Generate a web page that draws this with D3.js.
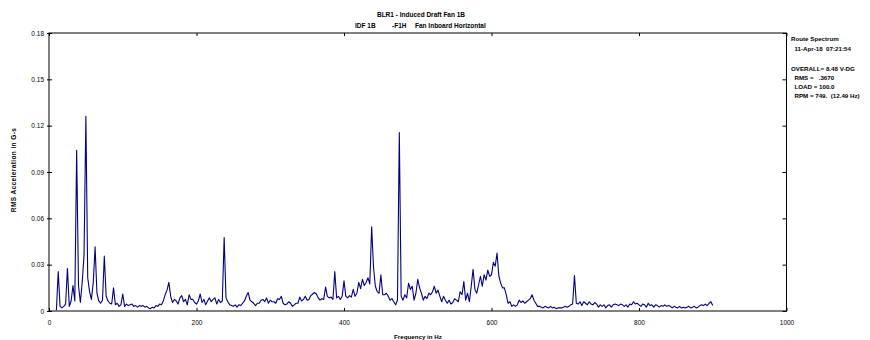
<!DOCTYPE html>
<html>
<head>
<meta charset="utf-8">
<script src="https://cdn.jsdelivr.net/npm/d3@7"></script>
<style>
  body { margin: 0; background: #fff; }
  text { font-family: "Liberation Sans", Arial, sans-serif; fill: #000; white-space: pre; }
  .lbl { font-weight: bold; }
</style>
</head>
<body>
<div id="chart"></div>
<script>
// spectrum bins, 2.5 Hz resolution starting at 10 Hz, amplitude in milli-G (RMS)
const firstBinHz = 10;
const binHz = 2.5;
const ampMilliG = [
  0.5, 25.5, 3, 2, 3, 4.5, 27.5, 3,            // 10
  6.5, 16.5, 6.5, 104, 16.5, 5.5, 18.5, 36,    // 30
  126, 21.5, 12.5, 7.5, 18.5, 41.5, 11.5, 6.5, // 50
  5, 7, 35.5, 9.5, 6.5, 5, 4.5, 15,            // 70
  4, 5, 3, 4, 11, 3, 4.5, 3.5,                 // 90
  4, 4.5, 3, 3.5, 2.5, 3.5, 3, 3.5,            // 110
  2.5, 3, 2, 1.5, 2.5, 2, 3.5, 3,              // 130
  4.5, 4, 6.5, 10.5, 13.5, 18.5, 9.5, 5.5,     // 150
  7.5, 6.5, 4.5, 8.5, 10, 6, 7.5, 4,           // 170
  10.5, 7.5, 7.5, 5.5, 4.5, 6.5, 11, 5.5,      // 190
  7.5, 4, 6.5, 8.5, 6, 7.5, 8.5, 4.5,          // 210
  7.5, 5.5, 6.5, 47.5, 8.5, 6, 4, 3.5,         // 230
  3, 4, 2.5, 4, 3.5, 5, 6.5, 9.5,              // 250
  12, 7, 6, 5, 3.5, 5, 5, 7,                   // 270
  7.5, 6, 8.5, 5, 7, 6, 6, 5,                  // 290
  8, 7.5, 9.5, 5, 4, 4.5, 6, 5,                // 310
  3, 4, 5, 5, 9, 6.5, 7.5, 9.5,                // 330
  7, 7.5, 10, 11, 12, 11, 8.5, 7,              // 350
  8, 7.5, 15.5, 9.5, 8.5, 9, 7.5, 25.5,        // 370
  8.5, 9.5, 7.5, 9.5, 19.5, 9.5, 8.5, 10,      // 390
  9, 14, 9.5, 11.5, 18.5, 14.5, 20.5, 16.5,    // 410
  18.5, 21.5, 17.5, 54.5, 28.5, 16, 12.5, 11.5,// 430
  23.5, 10.5, 10.5, 11.5, 9.5, 7, 8, 6,        // 450
  4, 7, 115.5, 9.5, 7, 10.5, 8.5, 18,          // 470
  14, 16, 7, 11.5, 20.5, 15, 11.5, 7,          // 490
  9.5, 8, 11.5, 10.5, 12.5, 16, 11.5, 13.5,    // 510
  9.5, 6, 9.5, 7, 5, 7, 4.5, 5.5,              // 530
  8, 7, 6, 12.5, 10.5, 19, 7, 11.5,            // 550
  6, 16, 27, 14, 11.5, 17, 22.5, 16,           // 570
  23.5, 20, 26.5, 22.5, 23.5, 31.5, 29, 37.5,  // 590
  22.5, 18, 15, 15, 10.5, 5, 6, 3,             // 610
  4, 3, 4, 7, 5.5, 6.5, 5, 6,                  // 630
  7, 8, 10.5, 7, 5, 3, 3, 2.5,                 // 650
  2, 3, 2.5, 2, 3, 2, 2.5, 1.5,                // 670
  2, 2, 2, 2.5, 3, 2.5, 3, 4,                  // 690
  4.5, 23, 5, 4.5, 6, 3.5, 6, 5,               // 710
  4, 6, 4.5, 4, 5.5, 4.5, 2.5, 4,              // 730
  3, 4, 2, 3.5, 4, 2.5, 4, 4.5,                // 750
  4, 3.5, 4.5, 4, 3, 4, 2.5, 4.5,              // 770
  4, 6, 4.5, 5, 4, 3, 4.5, 4,                  // 790
  2.5, 5, 3.5, 4, 2.5, 4, 3.5, 2.5,            // 810
  3.5, 3, 4, 3, 3.5, 3, 2, 3,                  // 830
  2.5, 2, 3, 2, 2.5, 2, 2.5, 3,                // 850
  2, 2.5, 3, 2, 2.5, 3.5, 4, 3.5,              // 870
  4.5, 3.5, 5, 6, 3.5                          // 890
];

const xTicks = [0, 200, 400, 600, 800, 1000];
const yTicks = [0, 0.03, 0.06, 0.09, 0.12, 0.15, 0.18];
const titleLines = ["BLR1 - Induced Draft Fan 1B"];
const subtitleParts = ["IDF 1B", "-F1H", "Fan Inboard Horizontal"];
const infoHead = ["Route Spectrum", "  11-Apr-18  07:21:54"];
const infoLines = ["OVERALL= 8.48 V-DG", "  RMS =   .3670", "  LOAD = 100.0", "  RPM = 749.  (12.49 Hz)"];

const width = 870, height = 340;
const plotLeft = 49, plotRight = 786.5, plotTop = 33, plotBottom = 311;

const svg = d3.select("#chart").append("svg")
    .attr("width", width)
    .attr("height", height);

svg.append("rect").attr("width", width).attr("height", height).attr("fill", "#fff");

const x = d3.scaleLinear().domain([0, 1000]).range([plotLeft, plotRight]);
const y = d3.scaleLinear().domain([0, 0.18]).range([plotBottom, plotTop]);

// frame
svg.append("rect")
    .attr("x", plotLeft).attr("y", plotTop)
    .attr("width", plotRight - plotLeft).attr("height", plotBottom - plotTop)
    .attr("fill", "none").attr("stroke", "#000").attr("stroke-width", 1);

const yFmt = d => d === 0 ? "0" : d3.format(".2f")(d);

// left axis, ticks cross the line
svg.append("g")
    .attr("transform", "translate(" + plotLeft + ",0)")
    .call(d3.axisLeft(y).tickValues(yTicks).tickFormat(yFmt).tickSizeInner(2).tickSizeOuter(0).tickPadding(3));
svg.append("g")
    .attr("transform", "translate(" + plotLeft + ",0)")
    .call(d3.axisRight(y).tickValues(yTicks).tickFormat("").tickSizeInner(3).tickSizeOuter(0));

// right side ticks
svg.append("g")
    .attr("transform", "translate(" + plotRight + ",0)")
    .call(d3.axisLeft(y).tickValues(yTicks).tickFormat("").tickSizeInner(4).tickSizeOuter(0));

// bottom axis, inward ticks
svg.append("g")
    .attr("transform", "translate(0," + plotBottom + ")")
    .call(d3.axisBottom(x).tickValues(xTicks).tickFormat(d3.format("d")).tickSizeInner(-3).tickSizeOuter(0).tickPadding(9));

// top ticks
svg.append("g")
    .attr("transform", "translate(0," + plotTop + ")")
    .call(d3.axisTop(x).tickValues(xTicks).tickFormat("").tickSizeInner(-3).tickSizeOuter(0));

svg.selectAll(".domain").remove();
svg.selectAll(".tick line").attr("stroke", "#000");
svg.selectAll(".tick text").style("font-size", "6.5px").attr("fill", "#000");

// spectrum trace
const line = d3.line()
    .x((d, i) => x(firstBinHz + i * binHz))
    .y(d => y(d / 1000));

svg.append("path")
    .datum(ampMilliG)
    .attr("d", line)
    .attr("fill", "none")
    .attr("stroke", "#000080")
    .attr("stroke-width", 1.1)
    .attr("stroke-linejoin", "round");

// titles
svg.append("text")
    .attr("class", "lbl")
    .attr("x", 421).attr("y", 16.5)
    .attr("text-anchor", "middle")
    .style("font-size", "6.5px")
    .text(titleLines[0]);

const subX = [355, 392, 415];
svg.selectAll(".sub").data(subtitleParts).enter().append("text")
    .attr("class", "sub lbl")
    .attr("x", (d, i) => subX[i]).attr("y", 27.5)
    .style("font-size", "6.5px")
    .text(d => d);

// info block on the right
svg.selectAll(".head").data(infoHead).enter().append("text")
    .attr("class", "head lbl")
    .attr("x", 791).attr("y", (d, i) => 41 + i * 10)
    .style("font-size", "6.2px")
    .text(d => d);

svg.selectAll(".info").data(infoLines).enter().append("text")
    .attr("class", "info lbl")
    .attr("x", 791).attr("y", (d, i) => 70.5 + i * 9.3)
    .style("font-size", "6.2px")
    .text(d => d);

// axis titles
svg.append("text")
    .attr("class", "lbl")
    .attr("transform", "translate(16,170) rotate(-90)")
    .attr("text-anchor", "middle")
    .style("font-size", "6.5px")
    .style("letter-spacing", "0.4px")
    .text("RMS Acceleration in G-s");

svg.append("text")
    .attr("class", "lbl")
    .attr("x", 418).attr("y", 339)
    .attr("text-anchor", "middle")
    .style("font-size", "6.2px")
    .text("Frequency in Hz");
</script>
</body>
</html>
